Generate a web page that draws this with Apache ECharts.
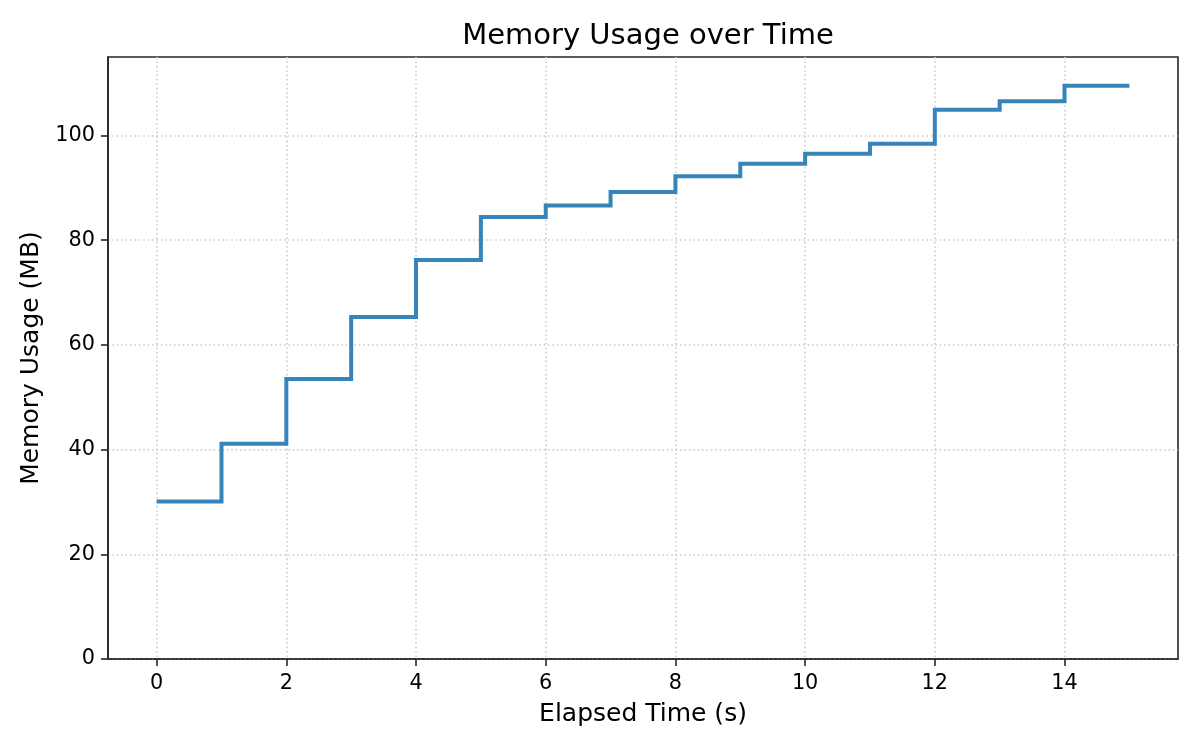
<!DOCTYPE html>
<html>
<head>
<meta charset="utf-8">
<script src="https://cdn.jsdelivr.net/npm/echarts@6/dist/echarts.min.js"></script>
<style>html,body{margin:0;padding:0;background:#fff}#c{width:1200px;height:750px}</style>
</head>
<body>
<div id="c"></div>
<script>
const times = [0, 1, 2, 3, 4, 5, 6, 7, 8, 9, 10, 11, 12, 13, 14, 15];
const memoryMB = [30.1, 41.1, 53.5, 65.3, 76.2, 84.4, 86.6, 89.2, 92.2, 94.6, 96.5, 98.4, 104.9, 106.5, 109.5, 109.5];
const xTicks = [0, 2, 4, 6, 8, 10, 12, 14];
const yTicks = [0, 20, 40, 60, 80, 100];

const FONT = 'DejaVu Sans';
const dark = '#262626';
const chart = echarts.init(document.getElementById('c'), null, {renderer: 'canvas'});
const yMax = Math.max(...memoryMB) * 1.05;
chart.setOption({
  animation: false,
  title: {
    text: 'Memory Usage over Time',
    left: 643, top: 17, textAlign: 'center',
    textStyle: {fontFamily: FONT, fontSize: 29, fontWeight: 'normal', color: '#000'}
  },
  grid: {left: 108, right: 22, top: 57, bottom: 91, show: true, borderColor: dark, borderWidth: 1.6, backgroundColor: 'transparent'},
  xAxis: {
    type: 'value', min: -0.75, max: 15.75,
    name: 'Elapsed Time (s)', nameLocation: 'middle', nameGap: 43,
    nameTextStyle: {fontFamily: FONT, fontSize: 25, color: '#000'},
    axisLine: {show: true, onZero: false, lineStyle: {color: dark, width: 1.6}},
    axisTick: {show: true, inside: false, customValues: xTicks, length: 7, lineStyle: {color: dark, width: 1.6}},
    axisLabel: {customValues: xTicks, margin: 14, fontFamily: FONT, fontSize: 20.8, color: '#000'},
    splitLine: {show: true, lineStyle: {color: '#cccccc', width: 1.6, type: [1.6, 2.8]}}
  },
  yAxis: {
    type: 'value', min: 0, max: yMax,
    name: 'Memory Usage (MB)', nameLocation: 'middle', nameGap: 61,
    nameTextStyle: {fontFamily: FONT, fontSize: 25, color: '#000'},
    axisLine: {show: true, onZero: false, lineStyle: {color: dark, width: 1.6}},
    axisTick: {show: true, inside: false, customValues: yTicks, length: 7, lineStyle: {color: dark, width: 1.6}},
    axisLabel: {customValues: yTicks, margin: 13, fontFamily: FONT, fontSize: 20.8, color: '#000'},
    splitLine: {show: true, lineStyle: {color: '#cccccc', width: 1.6, type: [1.6, 2.8]}}
  },
  series: [{
    type: 'line', step: 'end', showSymbol: false,
    data: times.map((t, i) => [t, memoryMB[i]]),
    lineStyle: {color: '#3585bb', width: 4, cap: 'butt', join: 'miter'},
    itemStyle: {color: '#3585bb'}
  }]
});
</script>
</body>
</html>
